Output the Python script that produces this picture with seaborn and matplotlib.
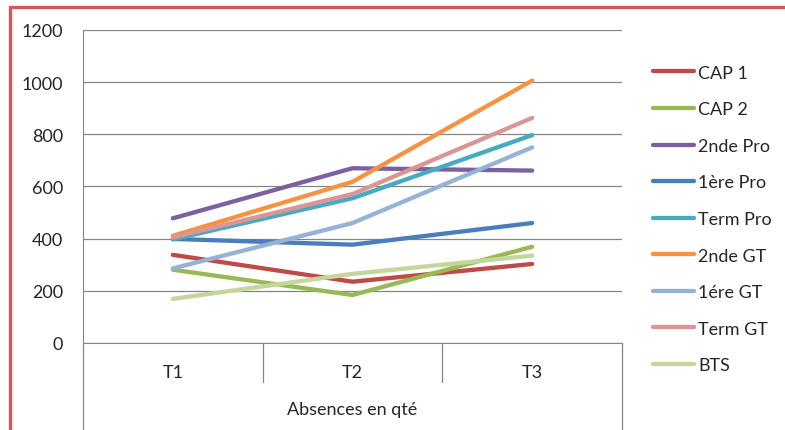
import pandas as pd
import matplotlib
matplotlib.use("Agg")
import matplotlib.pyplot as plt
import seaborn as sns
from matplotlib.lines import Line2D

# data
periods = ["T1", "T2", "T3"]
groups = ["CAP 1", "CAP 2", "2nde Pro", "1ère Pro", "Term Pro",
          "2nde GT", "1ére GT", "Term GT", "BTS"]
cap1 = [338, 235, 303]
cap2 = [281, 184, 369]
seconde_pro = [478, 670, 661]
premiere_pro = [399, 377, 460]
term_pro = [397, 555, 797]
seconde_gt = [411, 618, 1006]
premiere_gt = [286, 460, 750]
term_gt = [405, 571, 863]
bts = [169, 265, 335]
colors = ["#BE4B48", "#98B954", "#7D60A0", "#4A7EBB", "#46AAC5",
          "#F69240", "#95B3D7", "#D99694", "#C3D69B"]

series = [cap1, cap2, seconde_pro, premiere_pro, term_pro,
          seconde_gt, premiere_gt, term_gt, bts]
df = pd.DataFrame(
    [(g, p, v) for g, vals in zip(groups, series) for p, v in zip(periods, vals)],
    columns=["groupe", "periode", "absences"],
)

sns.set_style("white")
plt.rcParams["font.family"] = ["Lato", "DejaVu Sans"]
fs = 13

W, H = 785, 431
fig = plt.figure(figsize=(W / 100, H / 100), dpi=100)
x0, x1, y0, y1 = 83, 622, 344, 31
ax = fig.add_axes([x0 / W, 1 - y0 / H, (x1 - x0) / W, (y0 - y1) / H])

sns.lineplot(data=df, x="periode", y="absences", hue="groupe", hue_order=groups,
             palette=colors, linewidth=3.1, ax=ax, sort=False)

ax.set_xlim(-0.5, 2.5)
ax.set_ylim(0, 1200)
ax.set_yticks(range(0, 1201, 200))
ax.yaxis.grid(True, color="#868686", linewidth=0.9)
ax.set_axisbelow(True)
for side in ["top", "right"]:
    ax.spines[side].set_visible(False)
ax.spines["left"].set_color("#868686")
ax.spines["bottom"].set_color("#868686")
ax.tick_params(axis="y", length=4.5, color="#868686", pad=10, labelsize=fs)
ax.tick_params(axis="x", length=0, pad=15, labelsize=fs)
ax.set_ylabel("")
ax.set_xlabel("")

# category table lines under the axis
tr = ax.get_xaxis_transform()
ax.plot([-0.5, -0.5], [0, -0.3], transform=tr, color="#868686", lw=0.9, clip_on=False)
ax.plot([2.5, 2.5], [0, -0.3], transform=tr, color="#868686", lw=0.9, clip_on=False)
for xd in [0.5, 1.5]:
    ax.plot([xd, xd], [0, -0.125], transform=tr, color="#868686", lw=0.9, clip_on=False)
ax.text(1, -0.211, "Absences en qté", transform=tr, ha="center", va="center", fontsize=fs)

ax.legend(loc="center left", bbox_to_anchor=(653 / W, 1 - 220 / H),
          bbox_transform=fig.transFigure, frameon=False, fontsize=fs,
          handlelength=2.27, handletextpad=0.22, labelspacing=1.14,
          borderpad=0, borderaxespad=0)

# red frame (cut off on right and bottom)
fr = "#CF5B59"
fig.add_artist(Line2D([10 / W, 1], [1 - 8 / H, 1 - 8 / H], color=fr, lw=2.4))
fig.add_artist(Line2D([10 / W, 10 / W], [0, 1 - 8 / H], color=fr, lw=2.4))

fig.savefig("out.png", dpi=100)
